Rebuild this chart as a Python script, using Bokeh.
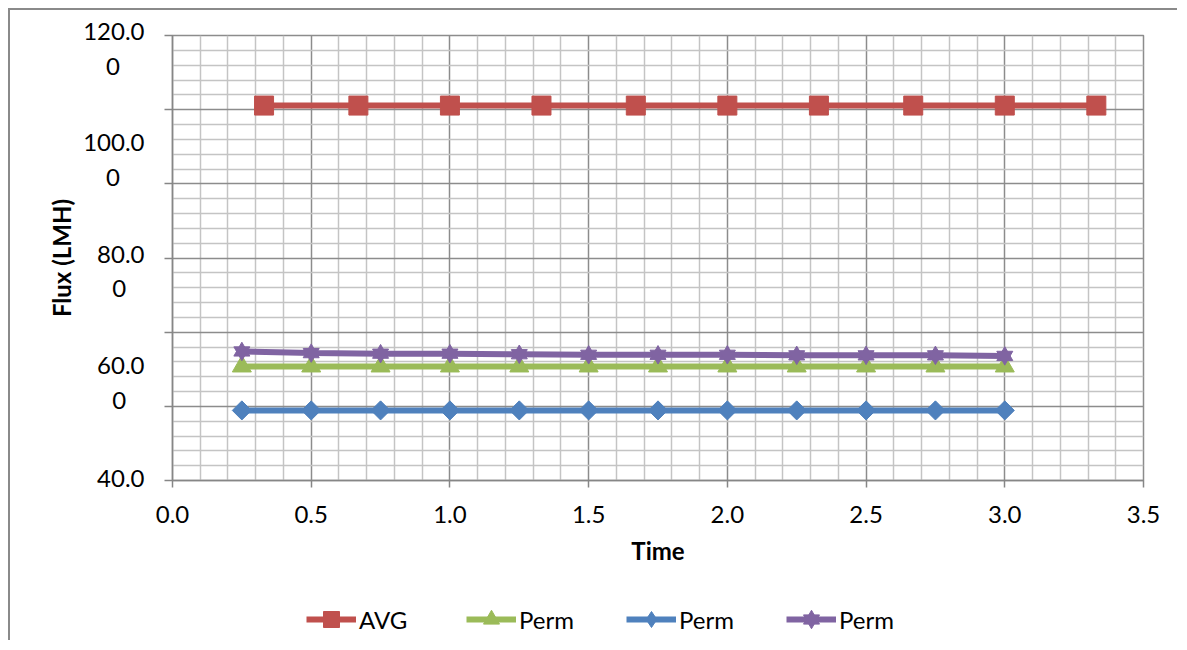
import numpy as np
from bokeh.plotting import figure
from bokeh.layouts import column
from bokeh.models import (FixedTicker, CustomJSTickFormatter, PrintfTickFormatter,
                          Legend, LegendItem)
from bokeh.embed import file_html
from bokeh.resources import INLINE

# ---------------- data ----------------
avg_time = [0.33, 0.67, 1.0, 1.33, 1.67, 2.0, 2.33, 2.67, 3.0, 3.33]
avg_flux = [107.4, 107.4, 107.4, 107.4, 107.4, 107.4, 107.4, 107.4, 107.4, 107.4]

perm_time = [0.25, 0.5, 0.75, 1.0, 1.25, 1.5, 1.75, 2.0, 2.25, 2.5, 2.75, 3.0]
perm_green = [60.5, 60.5, 60.5, 60.5, 60.5, 60.5, 60.5, 60.5, 60.5, 60.5, 60.5, 60.5]
perm_blue = [52.6, 52.6, 52.6, 52.6, 52.6, 52.6, 52.6, 52.6, 52.6, 52.6, 52.6, 52.6]
perm_purple = [63.2, 62.9, 62.8, 62.8, 62.7, 62.6, 62.6, 62.6, 62.5, 62.5, 62.5, 62.4]

series_names = ["AVG", "Perm", "Perm", "Perm"]

y_tick_values = [40, 60, 80, 100, 120]
y_tick_labels = ["40.0", "60.0\n0", "80.0\n0", "100.0\n0", "120.0\n0"]
x_tick_values = [0.0, 0.5, 1.0, 1.5, 2.0, 2.5, 3.0, 3.5]

# ---------------- layout ----------------
FONT = "Lato"
FS = "24px"
X_MIN, X_MAX = 0.0, 3.5
Y_MIN, Y_MAX = 40.0, 120.0
FW, FH = 971, 445
BL, BT, BR, BB = 162, 25, 34, 100
TOTAL_W = BL + FW + BR

RED, GREEN, BLUE, PURPLE = "#C0504D", "#9BBB59", "#4F81BD", "#8064A2"
MAJOR_GRID = "#8c8c8c"
MINOR_GRID = "#c4c4c4"
AXIS_COLOR = "#868686"

p = figure(frame_width=FW, frame_height=FH,
           x_range=(X_MIN, X_MAX), y_range=(Y_MIN, Y_MAX),
           output_backend="svg", toolbar_location=None,
           min_border_left=BL, min_border_top=BT,
           min_border_right=BR, min_border_bottom=BB)
p.outline_line_color = MAJOR_GRID
p.outline_line_width = 1.5

# gridlines: 6 major divisions in y, 5 minor per major; 0.5 major / 0.1 minor in x
y_grid_major = list(np.linspace(Y_MIN, Y_MAX, 7))
y_grid_minor = [v for v in np.linspace(Y_MIN, Y_MAX, 31) if not any(abs(v - m) < 1e-9 for m in y_grid_major)]
x_grid_minor = [v for v in np.arange(0, 35) / 10.0 if not any(abs(v - m) < 1e-9 for m in x_tick_values)]

p.xgrid.ticker = FixedTicker(ticks=x_tick_values, minor_ticks=x_grid_minor)
p.ygrid.ticker = FixedTicker(ticks=y_grid_major, minor_ticks=y_grid_minor)
for g in (p.xgrid, p.ygrid):
    g.grid_line_color = MAJOR_GRID
    g.grid_line_width = 1.5
    g.minor_grid_line_color = MINOR_GRID
    g.minor_grid_line_width = 1.5

# x axis
xa = p.xaxis[0]
xa.ticker = FixedTicker(ticks=x_tick_values, minor_ticks=[])
xa.formatter = PrintfTickFormatter(format="%.1f")
xa.axis_label = "Time"

# y axis: wrapped labels sit slightly below their value, ticks at gridlines
ppu = FH / (Y_MAX - Y_MIN)
label_pos = [v - (12.5 if "\n" in t else -3.5) / ppu for v, t in zip(y_tick_values, y_tick_labels)]

def centre_lines(t):
    # pad the short wrapped line with no-break spaces so it sits centred under the first
    lines = t.split("\n")
    if len(lines) == 1:
        return t
    w = lambda s: sum(0.25 if c == "." else 0.58 for c in s)
    pad = int(round((w(lines[0]) - w(lines[1])) / 2 / 0.275))
    return lines[0] + "\n" + lines[1] + "\u00a0" * pad

shown_labels = [centre_lines(t) for t in y_tick_labels]
ya = p.yaxis[0]
ya.ticker = FixedTicker(ticks=label_pos, minor_ticks=y_grid_major)
ya.formatter = CustomJSTickFormatter(args=dict(labels=shown_labels), code="return labels[index];")
ya.axis_label = "Flux (LMH)"
ya.major_tick_out = 0
ya.major_tick_in = 0
ya.minor_tick_out = 8
ya.minor_tick_in = 0
ya.minor_tick_line_color = AXIS_COLOR
ya.minor_tick_line_width = 1.5
ya.major_label_standoff = 20

xa.major_tick_out = 7
xa.major_tick_in = 0
xa.minor_tick_out = 0
xa.minor_tick_in = 0
xa.major_label_standoff = 18

for ax in (xa, ya):
    ax.axis_line_color = AXIS_COLOR
    ax.axis_line_width = 1.5
    ax.major_tick_line_color = AXIS_COLOR
    ax.major_tick_line_width = 1.5
    ax.major_label_text_font = FONT
    ax.major_label_text_font_size = FS
    ax.major_label_text_color = "black"
    ax.axis_label_text_font = FONT
    ax.axis_label_text_font_size = FS
    ax.axis_label_text_font_style = "bold"
    ax.axis_label_text_color = "black"
xa.axis_label_standoff = 10
ya.axis_label_standoff = 4

# ---------------- series ----------------
LW = 6
STYLES = [
    dict(color=RED, marks=[dict(marker="square", size=19, angle=0.0, legend_marker="square")]),
    dict(color=GREEN, marks=[dict(marker="triangle", size=19, angle=0.0, legend_marker="triangle")]),
    dict(color=BLUE, marks=[dict(marker="square", size=13.5, angle=np.pi / 4, legend_marker="diamond")]),
    dict(color=PURPLE, marks=[dict(marker="triangle", size=16, angle=0.0, legend_marker="triangle"),
                              dict(marker="inverted_triangle", size=16, angle=0.0,
                                   legend_marker="inverted_triangle")]),
]
series_x = [avg_time, perm_time, perm_time, perm_time]
series_y = [avg_flux, perm_green, perm_blue, perm_purple]

def draw(fig, xs, ys, st, for_legend=False):
    rs = [fig.line(xs, ys, line_color=st["color"], line_width=LW)]
    for m in st["marks"]:
        rs.append(fig.scatter(xs, ys,
                              marker=m["legend_marker"] if for_legend else m["marker"],
                              size=m["size"], angle=0.0 if for_legend else m["angle"],
                              fill_color=st["color"], line_color=st["color"]))
    return rs

for xs, ys, st in zip(series_x, series_y, STYLES):
    draw(p, xs, ys, st)

# ---------------- legend strip below the chart ----------------
# The strip's ranges lie outside the data, so its copies of the series stay hidden
# and only serve the legend swatches.
LEG_H = 60
pl = figure(width=TOTAL_W, height=LEG_H, x_range=(100, 101), y_range=(1000, 1001),
            output_backend="svg", toolbar_location=None,
            x_axis_type=None, y_axis_type=None, min_border=0)
pl.outline_line_color = None
pl.grid.visible = False

items = []
for name, xs, ys, st in zip(series_names, series_x, series_y, STYLES):
    rs = draw(pl, xs, ys, st, for_legend=True)
    items.append(LegendItem(label=name, renderers=rs))

legend = Legend(items=items, orientation="horizontal", location=(134, 1),
                glyph_width=50, glyph_height=40, label_width=65, label_height=22,
                spacing=42, padding=0, margin=0, label_standoff=3,
                border_line_color=None, background_fill_alpha=0,
                label_text_font=FONT, label_text_font_size=FS, label_text_color="black")
pl.add_layout(legend, "center")

layout = column(p, pl, spacing=0,
                styles={"margin-left": "8px", "margin-top": "8px",
                        "border-top": "2px solid #8a8a8a", "border-left": "2px solid #8a8a8a"})

open("out.html", "w").write(file_html(layout, INLINE))
